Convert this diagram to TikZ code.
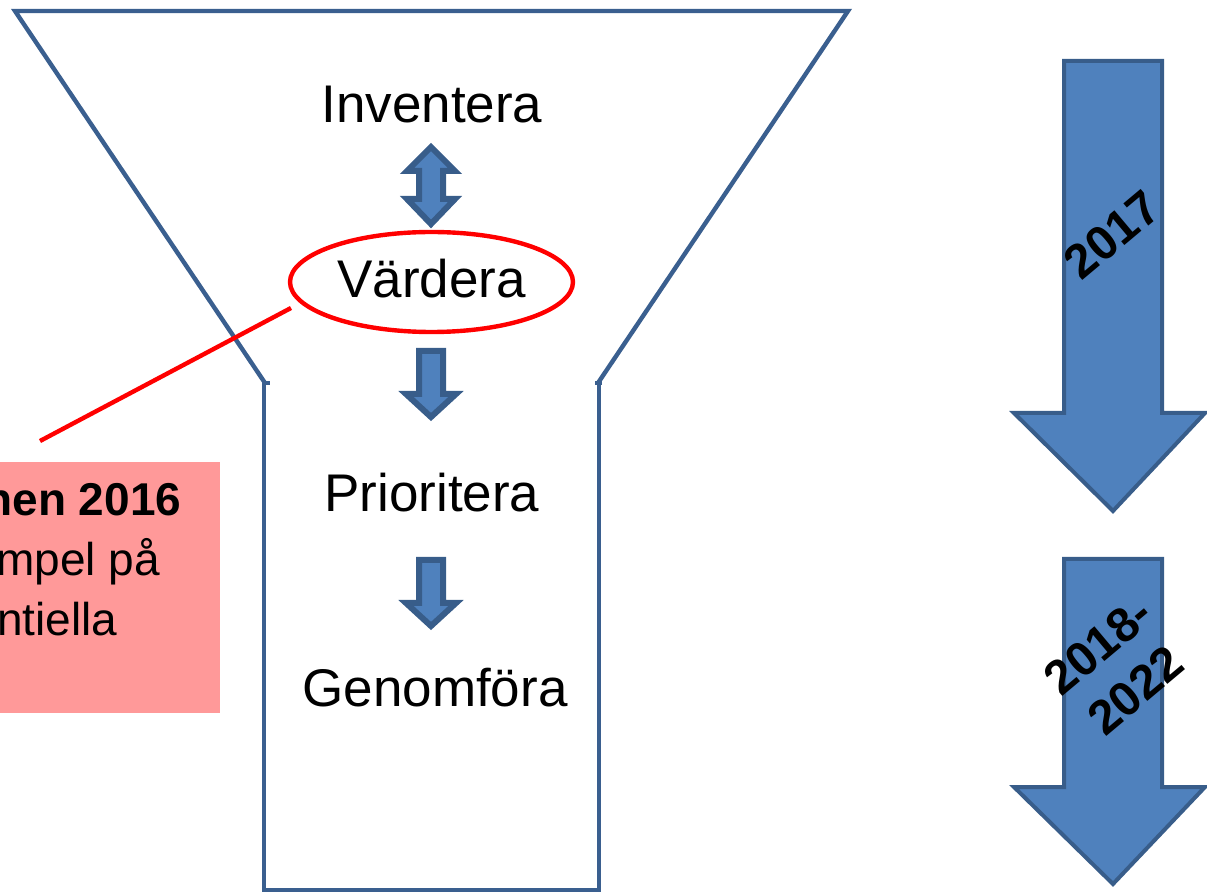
\documentclass[tikz,border=0pt]{standalone}
\usepackage{fontspec}
\setmainfont{Liberation Sans}
\usetikzlibrary{shapes.geometric}
\definecolor{funnelblue}{HTML}{3A5F8F}
\definecolor{arrowfill}{HTML}{4F81BD}
\definecolor{arrowline}{HTML}{385D8A}
\definecolor{pinkbox}{HTML}{FF9999}
\tikzset{
  funnel/.style={draw=funnelblue, line width=2.2pt, line join=miter},
  blockarrow/.style={draw=arrowline, fill=arrowfill, line width=2pt, line join=miter},
  smallarrow/.style={draw=arrowline, fill=arrowfill, line width=3pt, line join=miter},
  stage/.style={font=\fontsize{26.5}{31}\selectfont, inner sep=0pt},
  year/.style={font=\fontsize{24}{29}\selectfont\bfseries, align=center, inner sep=0pt},
  note/.style={font=\fontsize{23}{29}\selectfont, anchor=base west, inner sep=0pt},
}
\begin{document}
\begin{tikzpicture}[x=0.5pt,y=-0.5pt]
\useasboundingbox (0,0) rectangle (1207,893);
\clip (0,0) rectangle (1207,893);
% funnel
\draw[funnel] (265,383) -- (15,11) -- (848,11) -- (598,383);
\draw[funnel] (262,383) -- (270,383);
\draw[funnel] (595,383) -- (602,383);
\draw[funnel] (264,383) -- (264,890) -- (599,890) -- (599,383);
% stage labels
\node[stage] (inv) at (432,105) {Inventera};
\node[draw=red, line width=2.2pt, ellipse, minimum width=141.5pt, minimum height=50pt, inner sep=0pt] (vard) at (431.5,282) {};
\node[stage] (vardt) at (431.5,279) {Värdera};
\node[stage] (prio) at (432,493) {Prioritera};
\node[stage] (gen) at (435,688) {Genomföra};
% small arrows
\draw[smallarrow] (431,147) -- (455,171) -- (443,171) -- (443,199) -- (455,199) -- (431,224) -- (407,199) -- (419,199) -- (419,171) -- (407,171) -- cycle;
\draw[smallarrow] (419,351) -- (443,351) -- (443,394) -- (456,394) -- (431,417) -- (406,394) -- (419,394) -- cycle;
\draw[smallarrow] (419,560) -- (443,560) -- (443,603) -- (456,603) -- (431,626) -- (406,603) -- (419,603) -- cycle;
% red connector and note box
\coordinate (lineend) at (40,441);
\draw[red, line width=2.2pt] (291,308) -- (lineend);
\node[fill=pinkbox, minimum width=120pt, minimum height=125.5pt, inner sep=0pt, anchor=north east] (box) at (220,462) {};
\node[note, font=\fontsize{23}{29}\selectfont\bfseries] (n1) at (-16,516) {hen 2016};
\node[note] (n2) at (-4,576) {mpel på};
\node[note] (n3) at (-3,636) {ntiella};
% big arrows
\draw[blockarrow] (1064,61) -- (1162,61) -- (1162,413) -- (1205,413) -- (1113,511) -- (1014,413) -- (1064,413) -- cycle;
\draw[blockarrow] (1064,559) -- (1162,559) -- (1162,787) -- (1205,787) -- (1113,884) -- (1014,787) -- (1064,787) -- cycle;
\node[year, rotate=40] (y1) at (1112,235) {2017};
\node[year, rotate=40] (y2) at (1117,668) {2018-\\2022};
\end{tikzpicture}
\end{document}
